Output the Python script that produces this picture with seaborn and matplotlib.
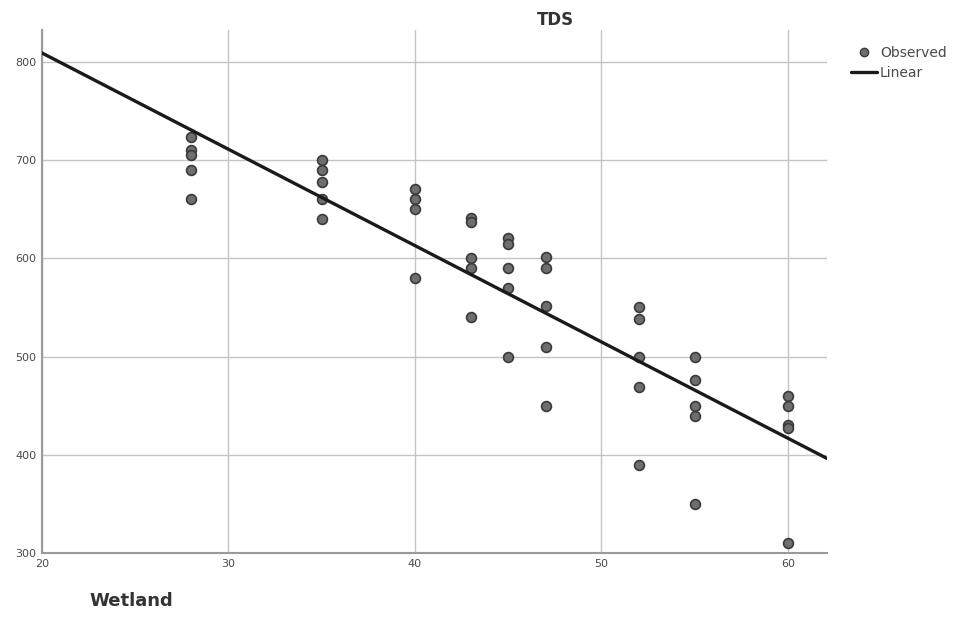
import numpy as np
import pandas as pd
import matplotlib
matplotlib.use("Agg")
import matplotlib.pyplot as plt
import seaborn as sns
from matplotlib.lines import Line2D

# Dados (Wetland x TDS)
wetland = [28] * 5 + [35] * 5 + [40] * 4 + [43] * 5 + [45] * 5 + [47] * 5 + [52] * 5 + [55] * 5 + [60] * 5
tds = [723, 710, 705, 690, 660,
       700, 690, 678, 660, 640,
       670, 660, 650, 580,
       641, 637, 600, 590, 540,
       621, 615, 590, 570, 500,
       601, 590, 551, 510, 450,
       550, 538, 500, 469, 390,
       500, 476, 450, 440, 350,
       460, 450, 430, 427, 310]

x_ticks = [20, 30, 40, 50, 60]
y_ticks = [300, 400, 500, 600, 700, 800]

df = pd.DataFrame({"Wetland": wetland, "TDS": tds})

sns.set_style("white")
plt.rcParams['font.family'] = ['DejaVu Sans']

fig = plt.figure(figsize=(9.54, 6.18), dpi=100)
ax = fig.add_axes([0.044, 0.105, 0.823, 0.846])

ax.set_xticks(x_ticks)
ax.set_yticks(y_ticks)
ax.grid(True, color='#c4c4c4', linewidth=1)
ax.set_axisbelow(True)

sns.scatterplot(data=df, x="Wetland", y="TDS", ax=ax, s=50, color='#6e6e6e',
                edgecolor='#3a3a3a', linewidth=1.2, zorder=3)
ax.set_xlim(20, 62.1)
ax.set_ylim(300, 832)
sns.regplot(data=df, x="Wetland", y="TDS", ax=ax, scatter=False, ci=None,
            truncate=False, line_kws={'color': '#1a1a1a', 'linewidth': 2.4, 'zorder': 4})

ax.set_xlim(20, 62.1)
ax.set_ylim(300, 832)

for s in ['top', 'right']:
    ax.spines[s].set_visible(False)
for s in ['left', 'bottom']:
    ax.spines[s].set_color('#9a9a9a')
    ax.spines[s].set_linewidth(1.5)

ax.tick_params(axis='both', length=0, labelsize=8, colors='#4a4a4a', pad=4)
ax.set_xlabel("")
ax.set_ylabel("")

fig.text(0.094, 0.02, "Wetland", fontsize=13, fontweight='bold', color='#333333')
fig.text(0.582, 0.96, "TDS", fontsize=12, fontweight='bold', color='#333333', ha='center')

handles = [Line2D([0], [0], marker='o', linestyle='', markerfacecolor='#6e6e6e',
                  markeredgecolor='#3a3a3a', markersize=6),
           Line2D([0], [0], color='#1a1a1a', linewidth=2.4)]
fig.legend(handles, ["Observed", "Linear"], loc='upper left', bbox_to_anchor=(0.886, 0.935),
           frameon=False, fontsize=10, labelcolor='#4a4a4a', handlelength=1.9,
           handletextpad=0.2, labelspacing=0.45, borderaxespad=0)

fig.savefig("out.png", dpi=100)
